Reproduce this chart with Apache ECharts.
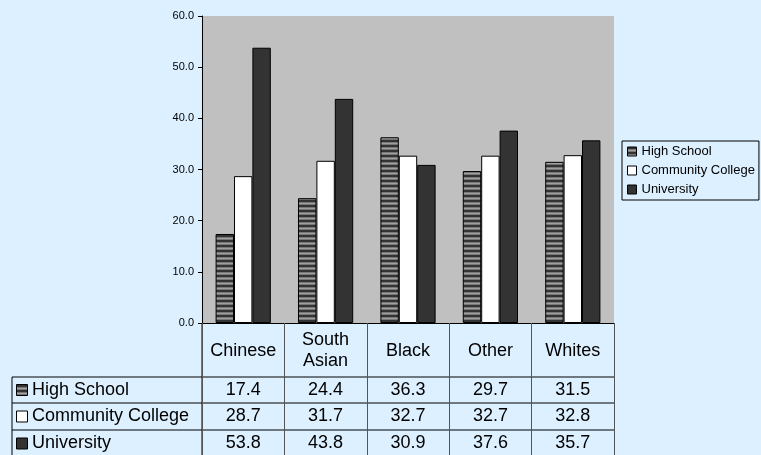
<!DOCTYPE html>
<html>
<head>
<meta charset="utf-8">
<script src="https://cdn.jsdelivr.net/npm/echarts@6/dist/echarts.min.js"></script>
<style>
  html, body { margin: 0; padding: 0; background: #DDF0FF; }
  #chart { width: 761px; height: 455px; }
</style>
</head>
<body>
<div id="chart"></div>
<script>
// chart data
const categories = ['Chinese', 'South\nAsian', 'Black', 'Other', 'Whites']
const seriesNames = ['High School', 'Community College', 'University']
const highSchool = [17.4, 24.4, 36.3, 29.7, 31.5]
const communityCollege = [28.7, 31.7, 32.7, 32.7, 32.8]
const university = [53.8, 43.8, 30.9, 37.6, 35.7]

const FONT = 'Liberation Sans, Arial, sans-serif'

// horizontal stripe fill for the high school bars
function stripePattern() {
  const c = document.createElement('canvas')
  c.width = 4
  c.height = 5
  const ctx = c.getContext('2d')
  const rows = ['#333333', '#333333', '#777777', '#a0a0a0', '#777777']
  rows.forEach((col, i) => {
    ctx.fillStyle = col
    ctx.fillRect(0, i, 4, 1)
  })
  return { image: c, repeat: 'repeat' }
}

const fills = [stripePattern(), '#FFFFFF', '#333333']
const values = [highSchool, communityCollege, university]

const grid = { left: 202, top: 16, width: 412, height: 307 }
const rowY = [377, 403, 430, 457]

const chart = echarts.init(document.getElementById('chart'))

const option = {
  backgroundColor: '#DDF0FF',
  animation: false,
  textStyle: { fontFamily: FONT },
  grid: {
    left: grid.left,
    top: grid.top,
    width: grid.width,
    height: grid.height,
    show: true,
    backgroundColor: '#C0C0C0',
    borderWidth: 0,
  },
  legend: {
    orient: 'vertical',
    left: 622,
    top: 141,
    padding: [4, 4, 4, 5],
    itemGap: 6,
    itemWidth: 9,
    itemHeight: 9,
    itemStyle: { borderColor: '#000', borderWidth: 1 },
    borderColor: '#000',
    borderWidth: 1,
    icon: 'rect',
    data: seriesNames,
    textStyle: { fontSize: 13, color: '#000', fontFamily: FONT },
  },
  xAxis: {
    type: 'category',
    data: categories,
    axisLine: { lineStyle: { color: '#000', width: 1 } },
    axisTick: { show: true, interval: 0, length: 134, lineStyle: { color: '#555' } },
    axisLabel: {
      interval: 0,
      margin: 28,
      verticalAlign: 'middle',
      fontSize: 18,
      lineHeight: 21,
      color: '#000',
      fontFamily: FONT,
    },
  },
  yAxis: {
    type: 'value',
    min: 0,
    max: 60,
    interval: 10,
    axisLine: { show: true, lineStyle: { color: '#000' } },
    axisTick: { show: true, length: 4, lineStyle: { color: '#000' } },
    splitLine: { show: false },
    axisLabel: {
      margin: 8,
      fontSize: 11,
      color: '#000',
      fontFamily: FONT,
      formatter: (v) => v.toFixed(1),
    },
  },
  series: seriesNames.map((name, i) => ({
    name: name,
    type: 'bar',
    data: values[i],
    barGap: '0%',
    barCategoryGap: '33%',
    itemStyle: { color: fills[i], borderColor: '#000', borderWidth: 1 },
  })),
}
chart.setOption(option)

// data table below the axis
function drawTable() {
  const g = []
  const right = grid.left + grid.width
  // horizontal rules
  rowY.forEach((y) => {
    g.push({ type: 'line', shape: { x1: 12, y1: y, x2: right, y2: y }, style: { stroke: '#000', lineWidth: 1 } })
  })
  g.push({ type: 'line', shape: { x1: 12, y1: rowY[0], x2: 12, y2: rowY[3] }, style: { stroke: '#000', lineWidth: 1 } })
  g.push({ type: 'line', shape: { x1: grid.left, y1: grid.top + grid.height, x2: grid.left, y2: rowY[3] }, style: { stroke: '#000', lineWidth: 1 } })
  seriesNames.forEach((name, r) => {
    const cy = (rowY[r] + rowY[r + 1]) / 2
    g.push({
      type: 'rect',
      shape: { x: 16.5, y: cy - 5.5, width: 11, height: 11 },
      style: { fill: fills[r], stroke: '#000', lineWidth: 1 },
    })
    g.push({
      type: 'text',
      x: 32,
      y: cy,
      style: { text: name, font: '18px ' + FONT, fill: '#000', verticalAlign: 'middle', align: 'left' },
    })
    values[r].forEach((v, c) => {
      const px = chart.convertToPixel({ xAxisIndex: 0 }, c)
      g.push({
        type: 'text',
        x: px,
        y: cy,
        style: { text: v.toFixed(1), font: '18px ' + FONT, fill: '#000', verticalAlign: 'middle', align: 'center' },
      })
    })
  })
  chart.setOption({ graphic: g })
}
drawTable()
</script>
</body>
</html>
